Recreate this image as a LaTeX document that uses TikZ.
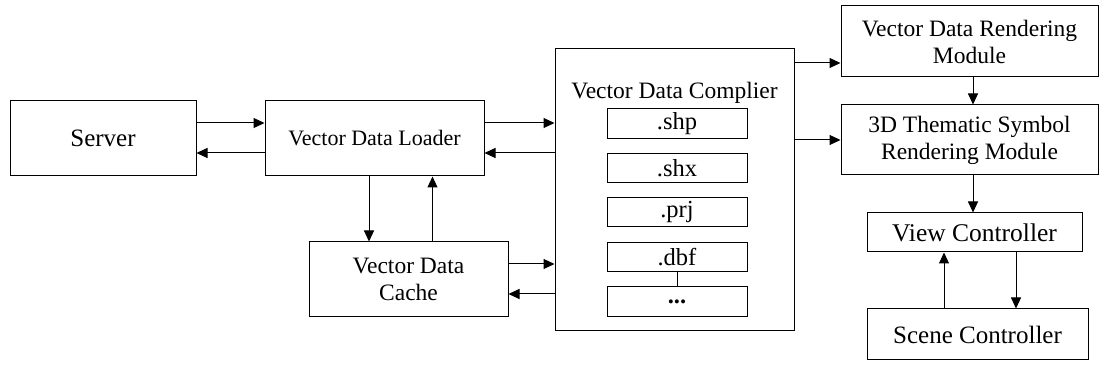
\documentclass[tikz,border=0pt]{standalone}
\usepackage{fontspec}
\setmainfont{Liberation Serif}
\usetikzlibrary{arrows.meta,positioning}

\begin{document}
\begin{tikzpicture}[x=1pt,y=1pt,
    box/.style={draw, line width=1pt, inner sep=0pt, align=center, font=\fontsize{23.5}{27}\selectfont},
    arr/.style={line width=1pt, -{Triangle[length=11pt,width=10pt]}}]
    \useasboundingbox (0,0) rectangle (1099,369);

    % left part
    \node [box, minimum width=186, minimum height=75, font=\fontsize{25}{28}\selectfont] (server) at (103,230.5) {Server};
    \node [box, minimum width=219, minimum height=75, font=\fontsize{22}{26}\selectfont] (loader) at (374.5,230.5) {Vector Data Loader};
    \node [box, minimum width=199, minimum height=75] (cache) at (408.5,89.5) {Vector Data\\Cache};

    % compiler with its files
    \node [box, minimum width=239, minimum height=282] (compiler) at (674.5,179) {};
    \node [font=\fontsize{23.5}{27}\selectfont] (title) at (674.5,276) {Vector Data Complier};
    \foreach \name/\ext/\y in {shp/.shp/245.5, shx/.shx/201, prj/.prj/157, dbf/.dbf/112, more/\textbf{...}/67.5}
        \node [box, minimum width=140, minimum height=29.5, font=\fontsize{24.5}{26}\selectfont] (\name) at (677,\y) {\ext};
    \draw [line width=1pt] (dbf) -- (more);

    % right part
    \node [box, minimum width=257, minimum height=71] (render) at (969.5,327.5) {Vector Data Rendering\\Module};
    \node [box, minimum width=257, minimum height=70] (thematic) at (969.5,229) {3D Thematic Symbol\\Rendering Module};
    \node [box, minimum width=215, minimum height=39, font=\fontsize{25.5}{28}\selectfont] (view) at (974.5,136.5) {View Controller};
    \node [box, minimum width=221, minimum height=51, font=\fontsize{25}{28}\selectfont] (scene) at (977.5,34.5) {Scene Controller};

    \draw [arr] ([yshift=15.5pt]server.east) -- ([yshift=15.5pt]loader.west);
    \draw [arr] ([yshift=-14.5pt]loader.west) -- ([yshift=-14.5pt]server.east);
    \draw [arr] ([yshift=15.5pt]loader.east) -- ([yshift=15.5pt]loader.east -| compiler.west);
    \draw [arr] ([yshift=-14.5pt]loader.east -| compiler.west) -- ([yshift=-14.5pt]loader.east);
    \draw [arr] ([xshift=-5.5pt]loader.south) -- ([xshift=-5.5pt]loader.south |- cache.north);
    \draw [arr] ([xshift=24pt]cache.north) -- ([xshift=24pt]cache.north |- loader.south);
    \draw [arr] ([yshift=15.5pt]cache.east) -- ([yshift=15.5pt]cache.east -| compiler.west);
    \draw [arr] ([yshift=-14.5pt]cache.east -| compiler.west) -- ([yshift=-14.5pt]cache.east);

    \draw [arr] ([yshift=-21.5pt]render.west -| compiler.east) -- ([yshift=-21.5pt]render.west);
    \draw [arr] (thematic.west -| compiler.east) -- (thematic.west);
    \draw [arr] ([xshift=3.5pt]render.south) -- ([xshift=3.5pt]render.south |- thematic.north);
    \draw [arr] ([xshift=3.5pt]thematic.south) -- ([xshift=3.5pt]thematic.south |- view.north);
    \draw [arr] ([xshift=-30.5pt]view.south |- scene.north) -- ([xshift=-30.5pt]view.south);
    \draw [arr] ([xshift=41.5pt]view.south) -- ([xshift=41.5pt]view.south |- scene.north);
\end{tikzpicture}
\end{document}
